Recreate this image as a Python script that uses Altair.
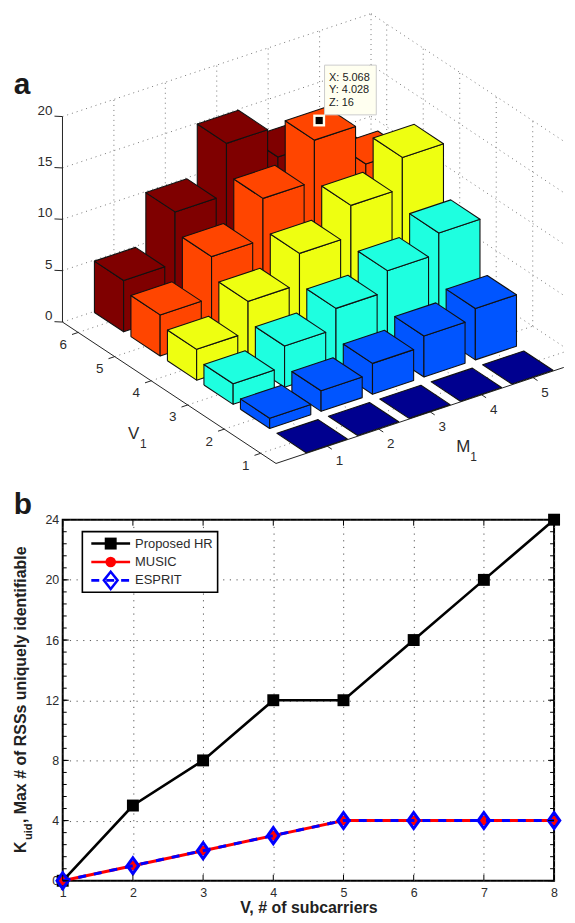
import altair as alt
import pandas as pd

# ---------- data: panel a ----------
M_VALUES = [1, 2, 3, 4, 5]
V_VALUES = [1, 2, 3, 4, 5, 6]
Z_TICKS = [0, 5, 10, 15, 20]
BAR_HEIGHTS = {
    6: [5, 10, 15, 12, 10],
    5: [4, 8, 12, 16, 12],
    4: [3, 6, 9, 12, 15],
    3: [2, 4, 6, 8, 10],
    2: [1, 2, 3, 4, 5],
    1: [0, 0, 0, 0, 0],
}
BAR_COLORS = {6: "#7f0000", 5: "#ff4500", 4: "#eeff11", 3: "#1effe0", 2: "#0055ff", 1: "#00008f"}
TIP_LINES = ["X: 5.068", "Y: 4.028", "Z: 16"]

# ---------- data: panel b ----------
V_SUB = [1, 2, 3, 4, 5, 6, 7, 8]
PROPOSED = [0, 5, 8, 12, 12, 16, 20, 24]
MUSIC = [0, 1, 2, 3, 4, 4, 4, 4]
ESPRIT = [0, 1, 2, 3, 4, 4, 4, 4]
Y_TICKS = [0, 4, 8, 12, 16, 20, 24]
LEGEND_NAMES = ["Proposed HR", "MUSIC", "ESPRIT"]

FONT = "Liberation Sans"
TXT = "#2b2b2b"
M0, M1, V0, V1 = 0.0, 6.0, 0.58, 6.43
X_LIMIT = 566  # the axes leave the page on the right


def proj(m, v, z):
    return (313.0 + (m - 1) * 51.7 - (v - 1) * 36.7,
            435 - (m - 1) * 17.25 - (v - 1) * 24.3 - z * 10.33)


def m_limit(v):
    return min(M1, 1 + (X_LIMIT - 313.0 + (v - 1) * 36.7) / 51.7)


M_END = m_limit(V0)
V_END = 1 + (313.0 + 5 * 51.7 - X_LIMIT) / 36.7

# ---------- panel a geometry from the data ----------
faces, fid = [], 0


def add_face(pts, fill):
    global fid
    pts = list(pts) + [pts[0]]
    for i, p in enumerate(pts):
        x, y = proj(*p)
        faces.append({"id": f"{fid:04d}", "i": i, "x": x, "y": y, "fill": fill})
    fid += 1


w = 0.4
for v in sorted(V_VALUES, reverse=True):
    for k in range(len(M_VALUES) - 1, -1, -1):
        m, z, c = M_VALUES[k], BAR_HEIGHTS[v][k], BAR_COLORS[v]
        if z > 0:
            add_face([(m - w, v + w, 0), (m - w, v - w, 0), (m - w, v - w, z), (m - w, v + w, z)], c)
            add_face([(m - w, v - w, 0), (m + w, v - w, 0), (m + w, v - w, z), (m - w, v - w, z)], c)
        add_face([(m - w, v - w, z), (m + w, v - w, z), (m + w, v + w, z), (m - w, v + w, z)], c)

grid, gid = [], 0


def add_seg(a, b, rows):
    global gid
    for i, p in enumerate((a, b)):
        x, y = proj(*p)
        rows.append({"id": f"{gid:04d}", "i": i, "x": x, "y": y})
    gid += 1


for m in M_VALUES:
    add_seg((m, V0, 0), (m, V1, 0), grid)
    add_seg((m, V1, 0), (m, V1, 20), grid)
for v in V_VALUES:
    add_seg((M0, v, 0), (m_limit(v), v, 0), grid)
    if v > 1:
        add_seg((M1, v, 0), (M1, v, 20), grid)
for z in Z_TICKS:
    add_seg((M0, V1, z), (M1, V1, z), grid)
    add_seg((M1, V1, z), (M1, V_END, z), grid)
add_seg((M1, V1, 0), (M1, V1, 20), grid)

axes3d = []
add_seg((M0, V1, 0), (M0, V1, 20), axes3d)
add_seg((M0, V1, 0), (M0, V0, 0), axes3d)
add_seg((M0, V0, 0), (M_END, V0, 0), axes3d)
for z in Z_TICKS:
    add_seg((M0, V1, z), (M0 - 0.12, V1 + 0.05, z + 0.12), axes3d)
for v in V_VALUES:
    add_seg((M0, v, 0), (M0 - 0.12, v, 0), axes3d)
for m in M_VALUES:
    add_seg((m, V0, 0), (m, V0 - 0.12, 0), axes3d)

texts_r, texts_c = [], []
for z in Z_TICKS:
    x, y = proj(M0, V1, z)
    texts_r.append({"x": x - 10, "y": y - 6, "t": str(z)})
for v in V_VALUES:
    x, y = proj(M0, v, 0)
    texts_c.append({"x": x - 15, "y": y + 12.5, "t": str(v)})
for m in M_VALUES:
    x, y = proj(m, V0, 0)
    texts_c.append({"x": x + 12, "y": y + 15, "t": str(m)})

X3 = alt.X("x:Q", scale=alt.Scale(domain=[62.25, 556.25], nice=False, zero=False), axis=None)
Y3 = alt.Y("y:Q", scale=alt.Scale(domain=[519, 8], nice=False, zero=False), axis=None)
PANEL_W, PANEL_H = 494, 511


def t3(rows, size=13.5, weight="normal", align="left", color=TXT):
    return alt.Chart(pd.DataFrame(rows)).mark_text(
        font=FONT, fontSize=size, fontWeight=weight, align=align, baseline="middle", color=color
    ).encode(x=X3, y=Y3, text="t:N")


anchor = alt.Chart(pd.DataFrame([{"x": 8, "y": 8}])).mark_point(opacity=0, size=1).encode(x=X3, y=Y3)
grid_l = alt.Chart(pd.DataFrame(grid)).mark_line(color="#777777", strokeWidth=1, strokeDash=[1, 4]).encode(
    x=X3, y=Y3, detail="id:N", order="i:Q")
axes_l = alt.Chart(pd.DataFrame(axes3d)).mark_line(color="#222222", strokeWidth=1).encode(
    x=X3, y=Y3, detail="id:N", order="i:Q")
bars_l = alt.Chart(pd.DataFrame(faces)).mark_line(stroke="#111111", strokeWidth=1.1, strokeJoin="round").encode(
    x=X3, y=Y3, detail="id:N", order="i:Q", fill=alt.Fill("fill:N", scale=None, legend=None))

tip_xy = proj(4, 5, 16.3)
tip_point = pd.DataFrame([{"x": tip_xy[0] - 1.2, "y": tip_xy[1]}])
halo = alt.Chart(tip_point).mark_point(shape="square", filled=True, color="#fffff0", opacity=1, size=144).encode(x=X3, y=Y3)
tipdot = alt.Chart(tip_point).mark_point(shape="square", filled=True, color="black", opacity=1, size=52).encode(x=X3, y=Y3)
tipbox = alt.Chart(pd.DataFrame([{"x": 325.5, "x2": 377.5, "y": 62, "y2": 112}])).mark_rect(
    fill="#fffff0", stroke="#cccccc", strokeWidth=1).encode(x=X3, x2="x2:Q", y=Y3, y2="y2:Q")
tiptext = t3([{"x": 330, "y": 75 + 12.5 * i, "t": s} for i, s in enumerate(TIP_LINES)], size=11, color="#222222")

labels = [
    t3(texts_r, align="right"),
    t3(texts_c, align="center"),
    t3([{"x": 13, "y": 82, "t": "a"}], size=30, weight="bold", color="#1a1a1a"),
    t3([{"x": 13, "y": 504, "t": "b"}], size=30, weight="bold", color="#1a1a1a"),
    t3([{"x": 128, "y": 433, "t": "V"}], size=17),
    t3([{"x": 140, "y": 443, "t": "1"}], size=12),
    t3([{"x": 458, "y": 446, "t": "M"}], size=17),
    t3([{"x": 472, "y": 456, "t": "1"}], size=12),
]

top = alt.layer(anchor, grid_l, axes_l, bars_l, tipbox, halo, tipdot, tiptext, *labels).properties(
    width=PANEL_W, height=PANEL_H, view=alt.ViewConfig(stroke=None))

# ---------- panel b ----------
df_b = pd.DataFrame({"V": V_SUB, "P": PROPOSED, "M": MUSIC, "E": ESPRIT})
GRID = dict(grid=True, gridDash=[1.2, 5.5], gridColor="#555555", gridWidth=1, gridOpacity=1)
XB = alt.X("V:Q", scale=alt.Scale(domain=[1, 8], nice=False, zero=False),
           axis=alt.Axis(values=V_SUB, format="d", title="V, # of subcarriers", domain=False, tickSize=0,
                         labelPadding=6, labelFlush=False, labelFont=FONT, labelFontSize=12.5, labelColor=TXT,
                         titleFont=FONT, titleFontSize=16, titleFontWeight="bold", titleColor="#222222",
                         titlePadding=0, **GRID))
YS = alt.Scale(domain=[0, 24], nice=False, zero=False)


def yb(f):
    return alt.Y(f, scale=YS, axis=alt.Axis(values=Y_TICKS, format="d", title=None, domain=False, tickSize=0,
                                            labelPadding=4, labelFlush=False, labelFont=FONT, labelFontSize=12.5,
                                            labelColor=TXT, **GRID))


base = alt.Chart(df_b)
DIAMOND = "M0,-1L0.72,0L0,1L-0.72,0Z"
DIAMOND_LEG = "M0,-1L0.8,0L0,1L-0.8,0Z"
l_p = base.mark_line(color="black", strokeWidth=2.6).encode(x=XB, y=yb("P:Q"))
s_p = base.mark_point(shape="square", filled=True, color="black", opacity=1, size=144).encode(x="V:Q", y=alt.Y("P:Q", scale=YS))
l_m = base.mark_line(color="#ff0000", strokeWidth=3).encode(x="V:Q", y=alt.Y("M:Q", scale=YS))
s_m = base.mark_point(shape="circle", filled=True, color="#ff0000", opacity=1, size=95).encode(x="V:Q", y=alt.Y("M:Q", scale=YS))
l_e = base.mark_line(color="#0000ff", strokeWidth=3, strokeDash=[8, 8]).encode(x="V:Q", y=alt.Y("E:Q", scale=YS))
s_e = base.mark_point(shape=DIAMOND, filled=False, color="#0000ff", opacity=1, size=256, strokeWidth=3).encode(
    x="V:Q", y=alt.Y("E:Q", scale=YS))

# inward ticks, from the same scales
minor = [round(i * 0.8, 1) for i in range(0, 31)]
tick_l = alt.Chart(pd.DataFrame({"y": minor})).mark_rule(color="black", strokeWidth=1).encode(
    y=alt.Y("y:Q", scale=YS), x=alt.value(0), x2=alt.value(4))
tick_r = alt.Chart(pd.DataFrame({"y": minor})).mark_rule(color="black", strokeWidth=1).encode(
    y=alt.Y("y:Q", scale=YS), x=alt.value(490), x2=alt.value(494))
tick_ml = alt.Chart(pd.DataFrame({"y": Y_TICKS})).mark_rule(color="black", strokeWidth=1).encode(
    y=alt.Y("y:Q", scale=YS), x=alt.value(0), x2=alt.value(6))
tick_mr = alt.Chart(pd.DataFrame({"y": Y_TICKS})).mark_rule(color="black", strokeWidth=1).encode(
    y=alt.Y("y:Q", scale=YS), x=alt.value(488), x2=alt.value(494))
tick_b = alt.Chart(pd.DataFrame({"V": V_SUB})).mark_rule(color="black", strokeWidth=1).encode(
    x=alt.X("V:Q", scale=alt.Scale(domain=[1, 8], nice=False, zero=False)), y=alt.value(363), y2=alt.value(357))
tick_t2 = alt.Chart(pd.DataFrame({"V": V_SUB})).mark_rule(color="black", strokeWidth=1).encode(
    x=alt.X("V:Q", scale=alt.Scale(domain=[1, 8], nice=False, zero=False)), y=alt.value(0), y2=alt.value(6))


# legend and rotated title, placed in pixels relative to the plot area
def px(x):
    return alt.value(x - 62.25)


def py(y):
    return alt.value(y - 519)


ONE = pd.DataFrame({"k": [0]})
leg_box = alt.Chart(ONE).mark_rect(fill="white", stroke="black", strokeWidth=1.6).encode(
    x=px(82), x2=px(218), y=py(531), y2=py(592))
legend = [leg_box]
rows_y = [543, 561.5, 580]
styles = [dict(color="black", strokeWidth=2.6), dict(color="#ff0000", strokeWidth=2.6),
          dict(color="#0000ff", strokeWidth=2.6, strokeDash=[8, 7])]
for yy, st, name in zip(rows_y, styles, LEGEND_NAMES):
    legend.append(alt.Chart(ONE).mark_rule(**st).encode(x=px(91), x2=px(130), y=py(yy)))
    legend.append(alt.Chart(ONE).mark_text(font=FONT, fontSize=13, align="left", baseline="middle", color=TXT, text=name)
                  .encode(x=px(135), y=py(yy)))
legend.append(alt.Chart(ONE).mark_point(shape="square", filled=True, color="black", opacity=1, size=144).encode(x=px(110.5), y=py(rows_y[0])))
legend.append(alt.Chart(ONE).mark_point(shape="circle", filled=True, color="#ff0000", opacity=1, size=113).encode(x=px(110.5), y=py(rows_y[1])))
legend.append(alt.Chart(ONE).mark_point(shape=DIAMOND_LEG, filled=False, color="#0000ff", opacity=1, size=300, strokeWidth=2.5).encode(x=px(110.5), y=py(rows_y[2])))


def rot(text, x, y, size):
    return alt.Chart(ONE).mark_text(font=FONT, fontSize=size, fontWeight="bold", angle=270, align="left",
                                    baseline="middle", color="#222222", text=text).encode(x=px(x), y=py(y))


ytitle = [rot("K", 20, 854, 16), rot("uid", 28, 841, 11), rot(", Max # of RSSs uniquely identifiable", 20, 824, 16)]

bottom = alt.layer(l_p, s_p, l_m, s_m, l_e, s_e, tick_l, tick_r, tick_ml, tick_mr, tick_b, tick_t2, *legend, *ytitle).properties(
    width=494, height=363, view=alt.ViewConfig(stroke="black", strokeWidth=2))

chart = alt.vconcat(top, bottom, spacing=0, bounds="flush").properties(
    padding={"left": 0, "top": 0, "right": 0, "bottom": -1})
chart.save("out.html", embed_options={"renderer": "svg", "actions": False})
